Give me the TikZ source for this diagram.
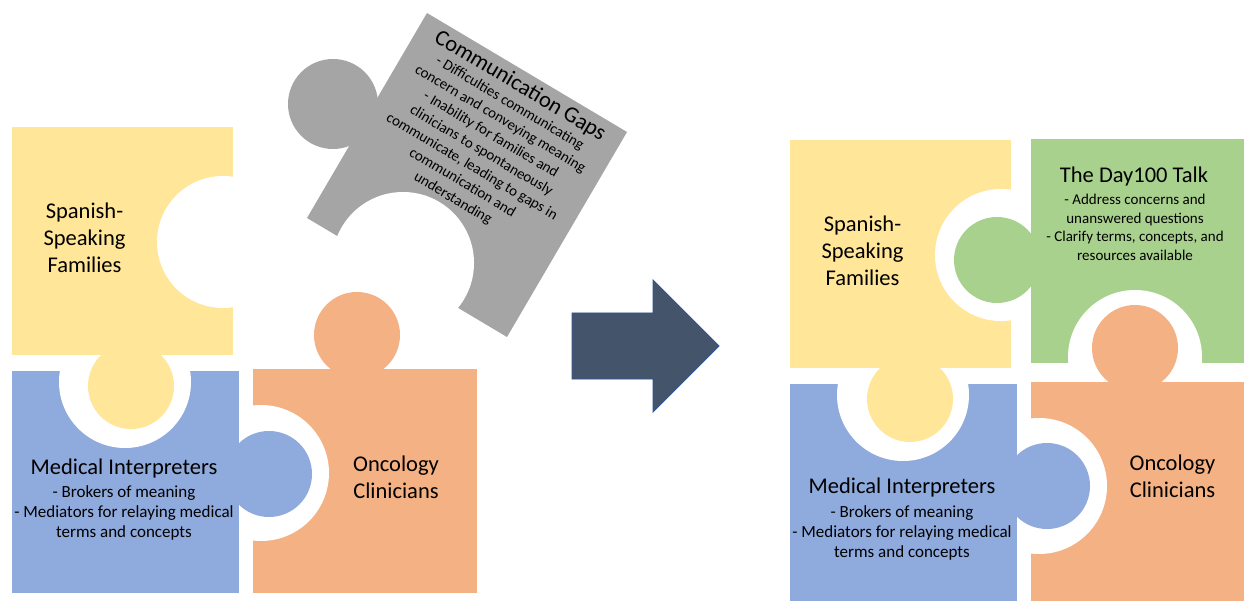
\documentclass[tikz,border=0pt]{standalone}
\usepackage{fontspec}
\setmainfont{Carlito}
\definecolor{pyellow}{HTML}{FFE699}
\definecolor{pblue}{HTML}{8FAADC}
\definecolor{porange}{HTML}{F4B183}
\definecolor{pgreen}{HTML}{A9D18E}
\definecolor{pgray}{HTML}{A5A5A5}
\definecolor{arrfill}{HTML}{44546A}
\definecolor{arredge}{HTML}{2F5597}
\begin{document}
\begin{tikzpicture}[x=1pt,y=-1pt,
  ttl/.style={font=\fontsize{22.5}{27}\selectfont, align=center, inner sep=0pt, text=black},
  sub/.style={font=\fontsize{17}{20}\selectfont, align=center, inner sep=0pt, text=black},
  subs/.style={font=\fontsize{15}{18.5}\selectfont, align=center, inner sep=0pt, text=black},
  hole/.style={fill=white},
  knob/.style={radius=43},
]
\useasboundingbox (0,0) rectangle (1244,601);
\fill[white] (0,0) rectangle (1244,601);

% ---------- left group ----------
\fill[pyellow] (12,127) rectangle (233,355);
\fill[pblue] (12,371) rectangle (239,593);
\fill[porange] (253,369) rectangle (477,593);
\fill[pgray] (427,13) -- (627,132) -- (507,337) -- (307,218) -- cycle;
\begin{scope}\clip (12,127) rectangle (243,355); \fill[hole] (223,242) circle[radius=66]; \end{scope}
\begin{scope}\clip (12,363) rectangle (239,593); \fill[hole] (125,382) circle[radius=66]; \end{scope}
\begin{scope}\clip (245,369) rectangle (477,593); \fill[hole] (261,473) circle[radius=68]; \end{scope}
\begin{scope}\clip (427,13) -- (627,132) -- (503,344) -- (303,225) -- cycle; \fill[hole] (403,263) circle[radius=71]; \end{scope}
\fill[pyellow] (131,386) circle[knob];
\fill[pblue] (269,474) circle[knob];
\fill[porange] (357,335) circle[knob];
\fill[pgray] (333,104) circle[radius=45];

\node[ttl, anchor=north] (lsf) at (84.5,203) {Spanish-\\Speaking\\Families};
\node[ttl, anchor=base] (lmi) at (124,474) {Medical Interpreters};
\node[sub, anchor=north] (lmis) at (124,485) {- Brokers of meaning\\- Mediators for relaying medical\\terms and concepts};
\node[ttl, anchor=north] (loc) at (396,456) {Oncology\\Clinicians};

\begin{scope}[shift={(520,86)}, rotate=-30.8]
  \node[ttl, anchor=base, transform shape] (cg) at (0,6) {Communication Gaps};
  \node[subs, anchor=north, transform shape] (cgs) at (0,13.5) {- Difficulties communicating\\concern and conveying meaning\\- Inability for families and\\clinicians to spontaneously\\communicate, leading to gaps in\\communication and\\understanding};
\end{scope}

% ---------- arrow ----------
\filldraw[fill=arrfill, draw=arredge, line width=0.8pt] (572,313) -- (653,313) -- (653,280) -- (719,346) -- (653,412) -- (653,379) -- (572,379) -- cycle;

% ---------- right group ----------
\fill[pyellow] (790,140) rectangle (1011,368);
\fill[pgreen] (1031,139) rectangle (1244,363);
\fill[porange] (1031,382) rectangle (1244,601);
\fill[pblue] (790,384) rectangle (1017,601);
\begin{scope}\clip (790,140) rectangle (1021,368); \fill[hole] (1001,255) circle[radius=66]; \end{scope}
\begin{scope}\clip (1031,139) rectangle (1244,373); \fill[hole] (1135,357) circle[radius=67]; \end{scope}
\begin{scope}\clip (1023,382) rectangle (1244,601); \fill[hole] (1039,486) circle[radius=68]; \end{scope}
\begin{scope}\clip (790,376) rectangle (1017,601); \fill[hole] (903,395) circle[radius=66]; \end{scope}
\fill[pgreen] (997,260) circle[knob];
\fill[porange] (1135,348) circle[knob];
\fill[pyellow] (910,399) circle[knob];
\fill[pblue] (1047,486) circle[knob];

\node[ttl, anchor=north] (rsf) at (862.5,216) {Spanish-\\Speaking\\Families};
\node[ttl, anchor=base] (rdt) at (1134,183) {The Day100 Talk};
\node[subs, anchor=north] (rdts) at (1135,194) {- Address concerns and\\unanswered questions\\- Clarify terms, concepts, and\\resources available};
\node[ttl, anchor=base] (rmi) at (902,493) {Medical Interpreters};
\node[sub, anchor=north] (rmis) at (902,505) {- Brokers of meaning\\- Mediators for relaying medical\\terms and concepts};
\node[ttl, anchor=north] (roc) at (1172.5,455) {Oncology\\Clinicians};
\end{tikzpicture}
\end{document}
